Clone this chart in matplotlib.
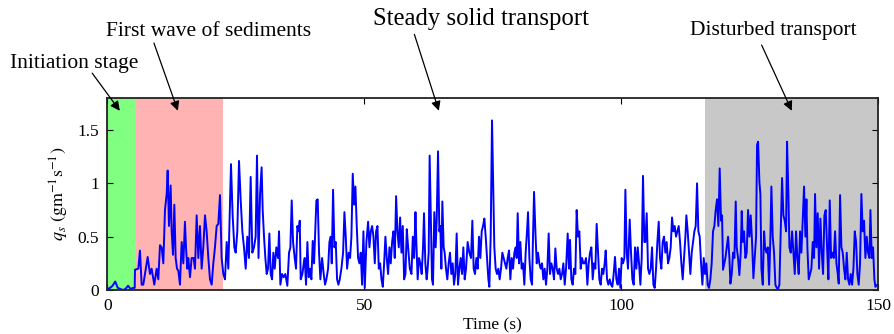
import numpy as np
import matplotlib
matplotlib.use('Agg')
import matplotlib.pyplot as plt

plt.rcParams['font.family'] = ['Liberation Serif', 'DejaVu Serif']
plt.rcParams['mathtext.fontset'] = 'stix'

# solid discharge record (time in s, q_s in g/m/s)
t = [0.0, 0.5, 1.0, 1.5, 2.0, 2.5, 3.0, 3.5, 4.0, 4.5, 5.0, 5.3,
     5.35, 6.0, 6.32, 6.65, 6.97, 7.3, 7.82, 8.27, 8.59, 9.11, 9.57, 9.89,
     10.22, 10.54, 10.87, 11.19, 11.52, 11.71, 11.97, 12.29, 12.49, 12.75, 13.01, 13.27,
     13.53, 13.79, 14.11, 14.44, 14.76, 15.08, 15.28, 15.54, 15.73, 16.06, 16.38, 16.77,
     17.03, 17.36, 17.68, 18.0, 18.33, 18.65, 18.98, 19.3, 19.63, 19.95, 20.28, 20.6,
     20.92, 21.25, 21.57, 21.9, 22.22, 22.55, 22.87, 23.2, 23.52, 24.04, 24.36, 24.69,
     24.95, 25.27, 25.6, 25.92, 26.25, 26.57, 26.9, 27.22, 27.54, 27.87, 28.19, 28.52,
     28.84, 29.1, 29.4, 29.7, 30.0,
     30.21, 30.47, 30.73, 30.99, 31.25, 31.51, 31.77, 32.03, 32.29, 32.55, 32.87, 33.2,
     33.39, 33.65, 33.98, 34.3, 34.62, 35.01, 35.34, 35.6, 35.86, 36.12, 36.44, 36.7,
     36.96, 37.22, 37.42, 37.61, 37.94, 38.2, 38.39, 38.65, 38.91, 39.17, 39.43, 39.69,
     39.95, 40.21, 40.47, 40.66, 40.92, 41.18, 41.44, 41.77, 42.09, 42.35, 42.61, 42.94,
     43.2, 43.46, 43.65, 43.91, 44.17, 44.43, 44.69, 44.95, 45.21, 45.53, 45.86, 46.12,
     46.38, 46.64, 46.96, 47.22, 47.48, 47.74, 48.0, 48.26, 48.52, 48.78, 49.04, 49.3,
     49.56, 49.82, 50.08, 50.4, 50.73, 50.99, 51.25, 51.51, 51.77, 52.03, 52.29, 52.55,
     52.81, 53.07, 53.33, 53.59, 53.85, 54.1, 54.36, 54.62, 54.88, 55.14, 55.4, 55.66,
     55.92, 56.18, 56.44, 56.7, 56.96, 57.22, 57.48, 57.74, 58.0, 58.26, 58.52, 58.85,
     59.17, 59.43, 59.69, 59.95,
     60.12, 60.38, 60.64, 60.9, 61.16, 61.42, 61.61, 61.87, 62.13, 62.32, 62.52, 62.71,
     62.97, 63.17, 63.36, 63.62, 63.88, 64.08, 64.34, 64.6, 64.79, 64.99, 65.18, 65.44,
     65.63, 65.89, 66.15, 66.41, 66.67, 66.93, 67.19, 67.45, 67.71, 67.97, 68.23, 68.49,
     68.75, 69.01, 69.27, 69.53, 69.79, 70.11, 70.44, 70.76, 71.02, 71.28, 71.54, 71.8,
     72.06, 72.32, 72.58, 72.84, 73.1, 73.36, 73.62, 73.88, 74.14, 74.33, 74.59, 74.85,
     75.11, 75.3, 75.56, 75.82, 76.08, 76.34, 76.6, 76.86, 77.12, 77.38, 77.64, 77.9,
     78.16, 78.42, 78.68, 78.94, 79.2, 79.46, 79.65, 79.85, 80.11, 80.37, 80.62, 80.88,
     81.14, 81.4, 81.66, 81.86, 82.12, 82.38, 82.64, 82.83, 83.03, 83.29, 83.55, 83.8,
     84.06, 84.32, 84.58, 84.84, 85.1, 85.36, 85.62, 85.88, 86.14, 86.4, 86.66, 86.92,
     87.18, 87.44, 87.7, 87.96, 88.22, 88.48, 88.74, 89.0, 89.26, 89.58, 89.84,
     90.03, 90.29, 90.55, 90.81, 91.07, 91.33, 91.59, 91.85, 92.11, 92.37, 92.63, 92.89,
     93.15, 93.41, 93.67, 93.93, 94.19, 94.45, 94.71, 94.97, 95.22, 95.48, 95.74, 96.0,
     96.26, 96.52, 96.78, 96.98, 97.24, 97.5, 97.76, 98.02, 98.27, 98.53, 98.79, 99.05,
     99.31, 99.57, 99.83, 100.09, 100.35, 100.61, 100.81, 101.07, 101.32, 101.65, 101.91, 102.17,
     102.43, 102.69, 102.95, 103.21, 103.47, 103.73, 103.99, 104.24, 104.5, 104.7, 104.96, 105.22,
     105.48, 105.74, 106.0, 106.26, 106.52, 106.78, 107.04, 107.3, 107.55, 107.81, 108.07, 108.33,
     108.59, 108.85, 109.11, 109.37, 109.63, 109.89, 110.15, 110.41, 110.67, 110.93, 111.19, 111.45,
     111.71, 111.97, 112.23, 112.49, 112.68, 112.94, 113.2, 113.46, 113.72, 113.98, 114.24, 114.5,
     114.76, 115.02, 115.28, 115.54, 115.8, 116.06, 116.32, 116.57, 116.83, 117.09, 117.35, 117.61,
     117.87, 118.13, 118.39, 118.65, 118.91, 119.17, 119.43,
     119.63, 119.82, 120.28, 120.54, 120.8, 121.06, 121.25, 121.51, 121.77, 122.03, 122.29, 122.48,
     122.74, 123.0, 123.26, 123.46, 123.65, 123.91, 124.17, 124.43, 124.69, 124.95, 125.21, 125.47,
     125.73, 125.99, 126.25, 126.44, 126.64, 126.9, 127.09, 127.29, 127.55, 127.81, 128.0, 128.26,
     128.52, 128.78, 129.04, 129.23, 129.49, 129.75, 130.01, 130.27, 130.53, 130.79, 131.05, 131.31,
     131.57, 131.83, 132.09, 132.28, 132.54, 132.74, 133.0, 133.26, 133.52, 133.78, 134.03, 134.29,
     134.55, 134.81, 135.07, 135.33, 135.59, 135.85, 136.05, 136.24, 136.5, 136.76, 137.02, 137.28,
     137.54, 137.73, 137.99, 138.25, 138.51, 138.77, 139.03, 139.29, 139.55, 139.81, 140.07, 140.33,
     140.59, 140.85, 141.11, 141.37, 141.63, 141.89, 142.15, 142.34, 142.6, 142.86, 143.12, 143.38,
     143.64, 143.9, 144.16, 144.42, 144.68, 144.94, 145.2, 145.46, 145.72, 145.97, 146.23, 146.49,
     146.75, 147.01, 147.27, 147.53, 147.79, 148.05, 148.31, 148.51, 148.77, 149.02, 149.28, 149.48,
     149.8, 150.0]

qs = [0.01, 0.02, 0.04, 0.08, 0.02, 0.01, 0.0, 0.01, 0.04, 0.01, 0.02, 0.02,
      0.19, 0.2, 0.37, 0.05, 0.05, 0.15, 0.31, 0.15, 0.2, 0.05, 0.2, 0.1,
      0.42, 0.4, 0.25, 0.75, 0.9, 1.12, 0.6, 0.98, 0.55, 0.33, 0.8, 0.3,
      0.2, 0.18, 0.05, 0.45, 0.25, 0.64, 0.4, 0.2, 0.3, 0.12, 0.3, 0.3,
      0.2, 0.7, 0.3, 0.6, 0.2, 0.4, 0.7, 0.55, 0.3, 0.1, 0.05, 0.25,
      0.4, 0.6, 0.62, 0.89, 0.3, 0.15, 0.1, 0.45, 0.2, 1.18, 0.7, 0.4,
      0.35, 0.55, 1.21, 0.85, 0.55, 0.4, 0.2, 0.5, 0.3, 1.06, 0.35, 0.4,
      0.5, 1.26, 0.3, 0.9, 1.15,
      0.75, 0.5, 0.3, 0.15, 0.2, 0.53, 0.15, 0.1, 0.35, 0.2, 0.4, 0.3,
      0.55, 0.05, 0.15, 0.12, 0.15, 0.04, 0.35, 0.4, 0.84, 0.45, 0.3, 0.2,
      0.6, 0.55, 0.65, 0.1, 0.15, 0.25, 0.3, 0.05, 0.45, 0.12, 0.2, 0.1,
      0.46, 0.25, 0.6, 0.84, 0.85, 0.35, 0.1, 0.3, 0.15, 0.05, 0.1, 0.2,
      0.45, 0.5, 0.25, 0.94, 0.4, 0.45, 0.1, 0.05, 0.1, 0.2, 0.35, 0.73,
      0.5, 0.2, 0.35, 0.3, 0.5, 1.09, 0.8, 0.97, 0.6, 0.3, 0.25, 0.35,
      0.05, 0.55, 0.02, 0.45, 0.64, 0.4, 0.55, 0.6, 0.5, 0.25, 0.55, 0.6,
      0.2, 0.25, 0.1, 0.03, 0.25, 0.5, 0.3, 0.15, 0.4, 0.25, 0.45, 0.55,
      0.3, 0.88, 0.55, 0.4, 0.68, 0.35, 0.6, 0.1, 0.15, 0.57, 0.4, 0.2,
      0.15, 0.5, 0.3, 0.73,
      0.45, 0.1, 0.3, 0.25, 0.15, 0.4, 0.72, 0.25, 0.1, 0.2, 0.35, 1.26,
      0.6, 0.1, 0.05, 0.73, 0.4, 0.65, 1.3, 0.55, 0.6, 0.2, 0.83, 0.4,
      0.35, 0.2, 0.1, 0.25, 0.35, 0.15, 0.25, 0.05, 0.15, 0.53, 0.05, 0.2,
      0.3, 0.15, 0.4, 0.1, 0.2, 0.45, 0.35, 0.3, 0.65, 0.2, 0.15, 0.3,
      0.2, 0.5, 0.3, 0.55, 0.6, 0.67, 0.5, 0.3, 0.1, 0.03, 0.5, 1.59,
      0.9, 0.4, 0.2, 0.15, 0.2, 0.1, 0.2, 0.35, 0.3, 0.25, 0.2, 0.3,
      0.37, 0.1, 0.3, 0.2, 0.35, 0.4, 0.3, 0.72, 0.25, 0.45, 0.2, 0.25,
      0.05, 0.35, 0.55, 0.73, 0.3, 0.1, 0.05, 0.5, 0.92, 0.55, 0.25, 0.35,
      0.25, 0.2, 0.25, 0.1, 0.2, 0.05, 0.2, 0.53, 0.15, 0.25, 0.2, 0.1,
      0.39, 0.2, 0.15, 0.2, 0.1, 0.15, 0.25, 0.05, 0.2, 0.53, 0.2,
      0.47, 0.1, 0.05, 0.2, 0.15, 0.75, 0.5, 0.55, 0.2, 0.3, 0.25, 0.25,
      0.3, 0.05, 0.25, 0.35, 0.4, 0.1, 0.25, 0.2, 0.62, 0.35, 0.1, 0.05,
      0.2, 0.15, 0.25, 0.37, 0.1, 0.05, 0.1, 0.05, 0.03, 0.15, 0.31, 0.1,
      0.05, 0.2, 0.02, 0.3, 0.25, 0.3, 0.94, 0.35, 0.2, 0.66, 0.35, 0.1,
      0.05, 0.4, 0.2, 0.4, 0.25, 0.05, 0.3, 1.07, 0.45, 0.45, 0.72, 0.2,
      0.15, 0.2, 0.4, 0.05, 0.02, 0.2, 0.45, 0.64, 0.3, 0.2, 0.45, 0.5,
      0.35, 0.45, 0.25, 0.3, 0.4, 0.68, 0.55, 0.6, 0.5, 0.55, 0.6, 0.45,
      0.25, 0.1, 0.3, 0.5, 0.7, 0.55, 0.35, 0.15, 0.35, 0.45, 0.55, 0.6,
      1.0, 0.55, 0.5, 0.25, 0.05, 0.3, 0.15, 0.25, 0.05, 0.02, 0.1, 0.25,
      0.55, 0.6, 0.75, 0.85, 0.6, 1.14, 0.65,
      0.7, 0.19, 0.3, 0.4, 0.5, 0.3, 0.06, 0.15, 0.35, 0.3, 0.83, 0.4,
      0.3, 0.14, 0.35, 0.74, 0.45, 0.55, 0.3, 0.35, 0.75, 0.5, 0.7, 0.45,
      0.11, 0.3, 0.5, 1.36, 1.39, 1.01, 0.9, 0.2, 0.05, 0.55, 0.4, 0.35,
      0.4, 0.05, 0.5, 0.97, 0.5, 0.35, 0.05, 0.02, 0.01, 0.05, 0.55, 1.05,
      0.7, 0.65, 0.55, 1.39, 0.9, 0.4, 0.35, 0.55, 0.35, 0.15, 0.55, 0.3,
      0.15, 0.55, 0.35, 0.65, 0.97, 0.5, 0.85, 0.4, 0.1, 0.15, 0.2, 0.45,
      0.3, 0.9, 0.4, 0.72, 0.2, 0.67, 0.35, 0.15, 0.7, 0.75, 0.4, 0.1,
      0.84, 0.3, 0.35, 0.3, 0.55, 0.25, 0.15, 0.06, 0.89, 0.4, 0.35, 0.2,
      0.1, 0.35, 0.1, 0.05, 0.15, 0.05, 0.2, 0.55, 0.45, 0.15, 0.05, 0.25,
      0.9, 0.55, 0.65, 0.3, 0.5, 0.35, 0.3, 0.75, 0.3, 0.4, 0.1, 0.03,
      0.05, 0.05]

# flow stages: (start, end, colour, label)
stages = [(0, 5.35, '#80ff80', 'Initiation stage'),
          (5.35, 22.5, '#ffb3b3', 'First wave of sediments'),
          (22.5, 116.3, None, 'Steady solid transport'),
          (116.3, 150, '#c8c8c8', 'Disturbed transport')]

# where each label sits (figure fraction), its size, and where its arrow points (data)
label_pos = [(0.011, 0.795), (0.118, 0.893), (0.417, 0.926), (0.771, 0.895)]
label_size = [15.5, 15.5, 17.8, 15.5]
arrow_tail = [(0.103, 0.781), (0.172, 0.871), (0.463, 0.897), (0.851, 0.865)]
arrow_head = [(2.4, 1.68), (13.7, 1.68), (64.5, 1.68), (133.2, 1.68)]

fig = plt.figure(figsize=(8.95, 3.34), dpi=100)
ax = fig.add_axes([0.1201, 0.1317, 0.861, 0.5749])

for (a, b, c, lab) in stages:
    if c is not None:
        ax.axvspan(a, b, color=c, lw=0, zorder=0)

ax.plot(t, qs, color='#0000ff', lw=1.4, zorder=2)

ax.set_xlim(0, 150)
ax.set_ylim(0, 1.8)
ax.set_xticks([0, 50, 100, 150])
ax.set_yticks([0, 0.5, 1, 1.5])
ax.set_yticklabels(['0', '0.5', '1', '1.5'])
ax.tick_params(direction='in', top=True, right=True, labelsize=12.5,
               length=4, width=0.8, pad=6)
for s in ax.spines.values():
    s.set_linewidth(1.3)
    s.set_color('#222222')

ax.set_xlabel('Time (s)', fontsize=12.5, labelpad=2)
ax.set_ylabel(r'$q_s\ (\mathrm{gm^{-1}s^{-1}})$', fontsize=13, labelpad=5)

for i, st in enumerate(stages):
    fig.text(label_pos[i][0], label_pos[i][1], st[3], fontsize=label_size[i],
             ha='left', va='baseline')
    ax.annotate('', xy=arrow_head[i], xycoords='data',
                xytext=arrow_tail[i], textcoords='figure fraction',
                arrowprops=dict(arrowstyle='-|>', color='black', lw=0.9,
                                mutation_scale=14, shrinkA=0, shrinkB=0),
                annotation_clip=False)

fig.savefig('out.png', dpi=100)
